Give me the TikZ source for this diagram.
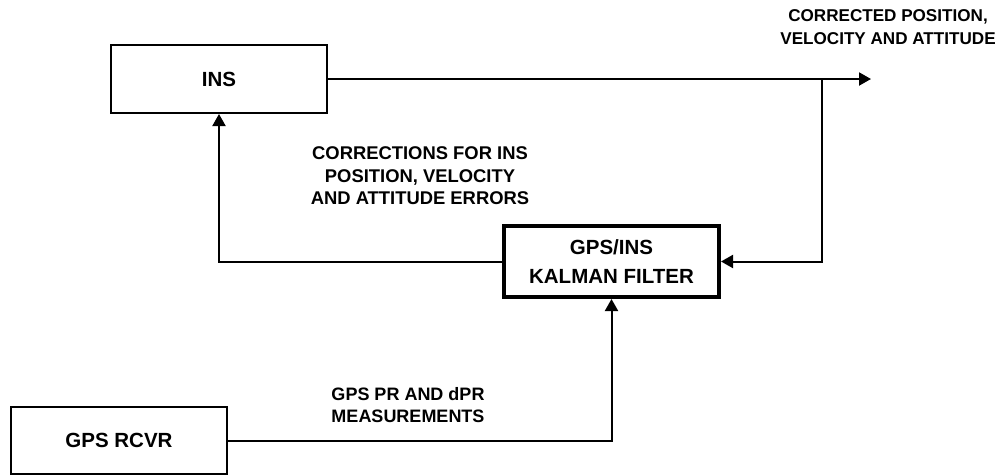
\documentclass[tikz,border=0pt]{standalone}
\usepackage{fontspec}
\setmainfont{Liberation Sans}
\usetikzlibrary{arrows.meta}
\begin{document}
\begin{tikzpicture}[x=1pt,y=-1pt,
  blk/.style={draw, line width=2pt, inner sep=0pt, minimum width=216pt, align=center, font=\bfseries\fontsize{20.5}{28.3}\selectfont},
  kbox/.style={blk, line width=4pt, minimum width=215pt},
  lbl/.style={inner sep=0pt, align=center, font=\bfseries\fontsize{18.4}{22.5}\selectfont},
  conn/.style={line width=2pt, -{Triangle[length=12pt,width=13pt]}}]
\useasboundingbox (0,0) rectangle (998,474);
\node[blk, minimum height=68pt] (ins) at (219,79) {INS};
\node[kbox, minimum height=71pt] (kf) at (611.5,261.5) {GPS/INS\\KALMAN FILTER};
\node[blk, minimum height=67pt] (rcvr) at (119,440.5) {GPS RCVR};
\coordinate (out) at (871,79);
\coordinate (tap) at (822,79);
\draw[conn] (ins.east) -- (out);
\draw[conn] (tap) |- (kf.east);
\draw[conn] (kf.west) -| (ins.south);
\draw[conn] (rcvr.east) -| (kf.south);
\node[lbl, font=\bfseries\fontsize{17.1}{23}\selectfont] (corr) at (888,27.5) {CORRECTED POSITION,\\VELOCITY AND ATTITUDE};
\node[lbl] (fb) at (420,176) {CORRECTIONS FOR INS\\POSITION, VELOCITY\\AND ATTITUDE ERRORS};
\node[lbl, font=\bfseries\fontsize{18}{22}\selectfont] (meas) at (408,405) {GPS PR AND dPR\\MEASUREMENTS};
\end{tikzpicture}
\end{document}
